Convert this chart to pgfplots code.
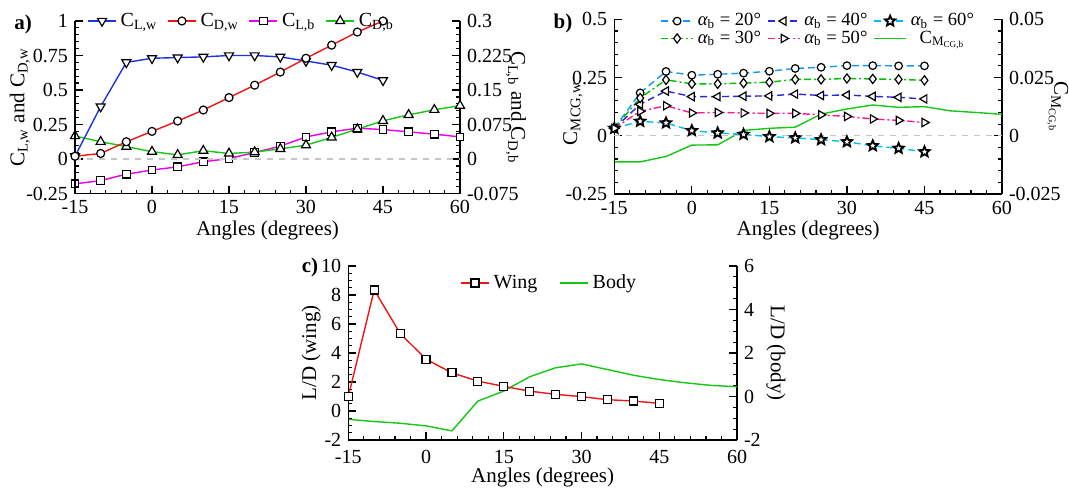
\documentclass[border=0pt]{standalone}
\usepackage{fontspec}
\setmainfont{Liberation Serif}
\usepackage{pgfplots}
\pgfplotsset{compat=1.18}

\definecolor{cblue}{RGB}{30,50,230}
\definecolor{cred}{RGB}{240,20,20}
\definecolor{cmag}{RGB}{235,0,235}
\definecolor{cgreen}{RGB}{20,200,20}
\definecolor{bA}{RGB}{20,150,255}
\definecolor{bB}{RGB}{0,190,0}
\definecolor{bC}{RGB}{40,40,220}
\definecolor{bD}{RGB}{255,20,150}
\definecolor{bE}{RGB}{0,190,240}

\pgfdeclareplotmark{pstar}{%
 \pgfpathmoveto{\pgfpointpolar{90}{\pgfplotmarksize}}%
 \pgfpathlineto{\pgfpointpolar{126}{0.45\pgfplotmarksize}}%
 \pgfpathlineto{\pgfpointpolar{162}{\pgfplotmarksize}}%
 \pgfpathlineto{\pgfpointpolar{198}{0.45\pgfplotmarksize}}%
 \pgfpathlineto{\pgfpointpolar{234}{\pgfplotmarksize}}%
 \pgfpathlineto{\pgfpointpolar{270}{0.45\pgfplotmarksize}}%
 \pgfpathlineto{\pgfpointpolar{306}{\pgfplotmarksize}}%
 \pgfpathlineto{\pgfpointpolar{342}{0.45\pgfplotmarksize}}%
 \pgfpathlineto{\pgfpointpolar{18}{\pgfplotmarksize}}%
 \pgfpathlineto{\pgfpointpolar{54}{0.45\pgfplotmarksize}}%
 \pgfpathclose
 \pgfusepathqfillstroke
}

\pgfplotsset{
  base/.style={
    scale only axis, clip=false,
    xmin=-15, xmax=60,
    tick align=inside,
    scaled y ticks=false, scaled x ticks=false,
    major tick length=4pt, minor tick length=2pt,
    every tick/.style={black, line width=0.6pt},
    axis line style={black, line width=0.7pt},
    tick label style={font=\fontsize{10}{12}\selectfont, black},
    legend style={font=\fontsize{10}{12}\selectfont, draw=none, fill=none, inner sep=0pt},
    legend image code/.code={\draw[mark repeat=2,mark phase=2,##1] plot coordinates {(0pt,0pt) (7pt,0pt) (14pt,0pt)};},
  },
  mainax/.style={base,
    axis x line*=bottom, axis y line*=left,
    xtick={-15,0,15,30,45,60}, xticklabels={-15,0,15,30,45,60},
    minor x tick num=4,
    every axis x label/.style={at={(axis description cs:0.5,#1)}, anchor=center, font=\fontsize{10.5}{12}\selectfont},
  },
  secax/.style={base,
    axis x line=none, axis y line*=right,
  },
  mk/.style={mark options={solid, draw=black, fill=white, line width=0.6pt, #1}},
  mk/.default={},
}

\begin{document}
\begin{tikzpicture}
\useasboundingbox (0,0) rectangle (534.5pt,244pt);

% ---------------- Panel a ----------------
\begin{axis}[secax, at={(37.5pt,147.25pt)}, anchor=south west, width=192.5pt, height=86.25pt,
  ymin=-0.075, ymax=0.3, ytick={-0.075,0,0.075,0.15,0.225,0.3},
  yticklabels={-0.075,0,0.075,0.15,0.225,0.3}, minor y tick num=4,
  ylabel={C\textsubscript{L,b} and C\textsubscript{D,b}},
  every axis y label/.style={at={(axis description cs:1.145,0.5)}, rotate=-90, anchor=center, font=\fontsize{10.5}{12}\selectfont}]
\addplot[cmag, line width=0.7pt, mark=square*, mark size=1.9pt, mk] coordinates {
(-15,-0.054) (-10,-0.047) (-5,-0.033) (0,-0.024) (5,-0.017) (10,-0.006) (15,0.001) (20,0.014)
(25,0.028) (30,0.048) (35,0.059) (40,0.067) (45,0.064) (50,0.059) (55,0.054) (60,0.048)};
\addplot[cgreen, line width=0.7pt, mark=triangle*, mark size=2.6pt, mk] coordinates {
(-15,0.050) (-10,0.0375) (-5,0.027) (0,0.016) (5,0.009) (10,0.018) (15,0.012) (20,0.015)
(25,0.022) (30,0.030) (35,0.047) (40,0.065) (45,0.083) (50,0.096) (55,0.107) (60,0.116)};
\end{axis}

\begin{axis}[mainax=-0.212, at={(37.5pt,147.25pt)}, anchor=south west, width=192.5pt, height=86.25pt,
  ymin=-0.25, ymax=1, ytick={-0.25,0,0.25,0.5,0.75,1},
  yticklabels={-0.25,0,0.25,0.5,0.75,1}, minor y tick num=4,
  xlabel={Angles (degrees)},
  ylabel={C\textsubscript{L,w} and C\textsubscript{D,w}},
  every axis y label/.style={at={(axis description cs:-0.143,0.5)}, rotate=90, anchor=center, font=\fontsize{10.5}{12}\selectfont},
  legend columns=4,
  legend style={at={(axis description cs:0.031,1.0)}, anchor=west,
    /tikz/every even column/.append style={column sep=3pt}}]
\addplot[gray!45, dashed, line width=0.6pt, forget plot] coordinates {(-15,0) (60,0)};
\addplot[cblue, line width=0.7pt, mark=triangle*, mark size=2.6pt, mk={rotate=180}] coordinates {
(-15,0.02) (-10,0.38) (-5,0.70) (0,0.73) (5,0.735) (10,0.74) (15,0.75) (20,0.75)
(25,0.74) (30,0.71) (35,0.68) (40,0.63) (45,0.57)};
\addlegendentry{C\textsubscript{L,w}}
\addplot[cred, line width=0.7pt, mark=*, mark size=2pt, mk] coordinates {
(-15,0.02) (-10,0.04) (-5,0.125) (0,0.20) (5,0.275) (10,0.355) (15,0.445) (20,0.535)
(25,0.63) (30,0.73) (35,0.825) (40,0.92) (45,1.0)};
\addlegendentry{C\textsubscript{D,w}}
\addlegendimage{cmag, line width=0.7pt, mark=square*, mark size=1.9pt, mk}
\addlegendentry{C\textsubscript{L,b}}
\addlegendimage{cgreen, line width=0.7pt, mark=triangle*, mark size=2.6pt, mk}
\addlegendentry{C\textsubscript{D,b}}
\end{axis}

% ---------------- Panel b ----------------
\begin{axis}[secax, at={(307.15pt,147pt)}, anchor=south west, width=193.85pt, height=87.35pt,
  ymin=-0.025, ymax=0.05, ytick={-0.025,0,0.025,0.05},
  yticklabels={-0.025,0,0.025,0.05}, minor y tick num=4,
  ylabel={C\textsubscript{M\textsubscript{CG,b}}},
  every axis y label/.style={at={(axis description cs:1.144,0.5)}, rotate=-90, anchor=center, font=\fontsize{10.5}{12}\selectfont}]
\addplot[cgreen, line width=0.7pt] coordinates {
(-15,-0.0112) (-10,-0.0112) (-5,-0.0089) (0,-0.0040) (5,-0.0039) (10,0.0023) (15,0.0032) (20,0.0037)
(25,0.0093) (30,0.0115) (35,0.0132) (40,0.0122) (45,0.0125) (50,0.0107) (55,0.0100) (60,0.0092)};
\end{axis}

\begin{axis}[mainax=-0.206, at={(307.15pt,147pt)}, anchor=south west, width=193.85pt, height=87.35pt,
  ymin=-0.25, ymax=0.5, ytick={-0.25,0,0.25,0.5},
  yticklabels={-0.25,0,0.25,0.5}, minor y tick num=4,
  xlabel={Angles (degrees)},
  ylabel={C\textsubscript{MCG,w}},
  every axis y label/.style={at={(axis description cs:-0.107,0.46)}, rotate=90, anchor=center, font=\fontsize{10.5}{12}\selectfont},
  legend columns=3,
  legend image code/.code={\draw[mark repeat=2,mark phase=2,#1] plot coordinates {(0pt,0pt) (8pt,0pt) (16pt,0pt)};},
  legend style={at={(axis description cs:0.118,0.94)}, anchor=west, row sep=-3pt,
    font=\fontsize{9.3}{11}\selectfont,
    /tikz/every even column/.append style={column sep=1pt}}]
\addplot[gray!45, dashed, line width=0.6pt, forget plot] coordinates {(-15,0) (60,0)};
\addplot[bA, line width=0.7pt, dash pattern=on 3.5pt off 2pt, mark=*, mark size=1.9pt, mk] coordinates {
(-15,0.032) (-10,0.184) (-5,0.276) (0,0.260) (5,0.264) (10,0.269) (15,0.277) (20,0.289)
(25,0.294) (30,0.301) (35,0.301) (40,0.300) (45,0.300)};
\addlegendentry{{\itshape α}\textsubscript{b} = 20°}
\addplot[bC, line width=0.7pt, dash pattern=on 3.5pt off 2pt, mark=triangle*, mark size=2.4pt, mk={rotate=90}] coordinates {
(-15,0.032) (-10,0.135) (-5,0.192) (0,0.168) (5,0.168) (10,0.170) (15,0.171) (20,0.179)
(25,0.173) (30,0.175) (35,0.169) (40,0.165) (45,0.158)};
\addlegendentry{{\itshape α}\textsubscript{b} = 40°}
\addplot[bE, line width=0.7pt, dash pattern=on 3.5pt off 2pt, mark=pstar, mark size=2.7pt, mk={line width=0.9pt}] coordinates {
(-15,0.032) (-10,0.062) (-5,0.055) (0,0.022) (5,0.012) (10,0.006) (15,-0.004) (20,-0.009)
(25,-0.017) (30,-0.026) (35,-0.043) (40,-0.054) (45,-0.069)};
\addlegendentry{{\itshape α}\textsubscript{b} = 60°}
\addplot[bB, line width=0.7pt, dash pattern=on 3.5pt off 1.5pt on 1pt off 1.5pt, mark=diamond*, mark size=2.3pt, mk] coordinates {
(-15,0.032) (-10,0.162) (-5,0.240) (0,0.223) (5,0.223) (10,0.226) (15,0.230) (20,0.242)
(25,0.242) (30,0.246) (35,0.244) (40,0.242) (45,0.238)};
\addlegendentry{{\itshape α}\textsubscript{b} = 30°}
\addplot[bD, line width=0.7pt, dash pattern=on 3.5pt off 1.5pt on 1pt off 1.5pt, mark=triangle*, mark size=2.4pt, mk={rotate=-90}] coordinates {
(-15,0.032) (-10,0.105) (-5,0.129) (0,0.098) (5,0.100) (10,0.098) (15,0.096) (20,0.096)
(25,0.090) (30,0.083) (35,0.072) (40,0.066) (45,0.057)};
\addlegendentry{{\itshape α}\textsubscript{b} = 50°}
\addlegendimage{cgreen, line width=0.7pt}
\addlegendentry{C\textsubscript{M\textsubscript{CG,b}}}
\end{axis}

% ---------------- Panel c ----------------
\begin{axis}[secax, at={(174.15pt,24pt)}, anchor=south west, width=194.35pt, height=87pt,
  ymin=-2, ymax=6, ytick={-2,0,2,4,6}, yticklabels={-2,0,2,4,6}, minor y tick num=3,
  ylabel={L/D (body)},
  every axis y label/.style={at={(axis description cs:1.10,0.5)}, rotate=-90, anchor=center, font=\fontsize{10.5}{12}\selectfont}]
\addplot[cgreen, line width=0.7pt] coordinates {
(-15,-1.05) (-10,-1.15) (-5,-1.23) (0,-1.35) (5,-1.58) (10,-0.21) (15,0.25) (20,0.91)
(25,1.32) (30,1.50) (35,1.24) (40,0.98) (45,0.78) (50,0.63) (55,0.51) (60,0.45)};
\end{axis}

\begin{axis}[mainax=-0.218, at={(174.15pt,24pt)}, anchor=south west, width=194.35pt, height=87pt,
  ymin=-2, ymax=10, ytick={-2,0,2,4,6,8,10}, yticklabels={-2,0,2,4,6,8,10}, minor y tick num=3,
  xticklabel style={yshift=-1.5pt},
  xlabel={Angles (degrees)},
  ylabel={L/D (wing)},
  every axis y label/.style={at={(axis description cs:-0.096,0.5)}, rotate=90, anchor=center, font=\fontsize{10.5}{12}\selectfont},
  legend columns=2,
  legend style={at={(axis description cs:0.287,0.902)}, anchor=west,
    /tikz/every even column/.append style={column sep=9pt}}]
\addplot[cred, line width=0.7pt, mark=square*, mark size=2pt, mk] coordinates {
(-15,0.99) (-10,8.35) (-5,5.35) (0,3.57) (5,2.63) (10,2.06) (15,1.70) (20,1.37)
(25,1.15) (30,0.99) (35,0.78) (40,0.69) (45,0.53)};
\addlegendentry{Wing}
\addlegendimage{cgreen, line width=0.7pt}
\addlegendentry{Body}
\end{axis}

\node[font=\bfseries\fontsize{10.5}{12}\selectfont] at (11.5pt,232pt) {a)};
\node[font=\bfseries\fontsize{10.5}{12}\selectfont] at (281.5pt,232.5pt) {b)};
\node[font=\bfseries\fontsize{10.5}{12}\selectfont] at (155pt,110.5pt) {c)};
\end{tikzpicture}
\end{document}
